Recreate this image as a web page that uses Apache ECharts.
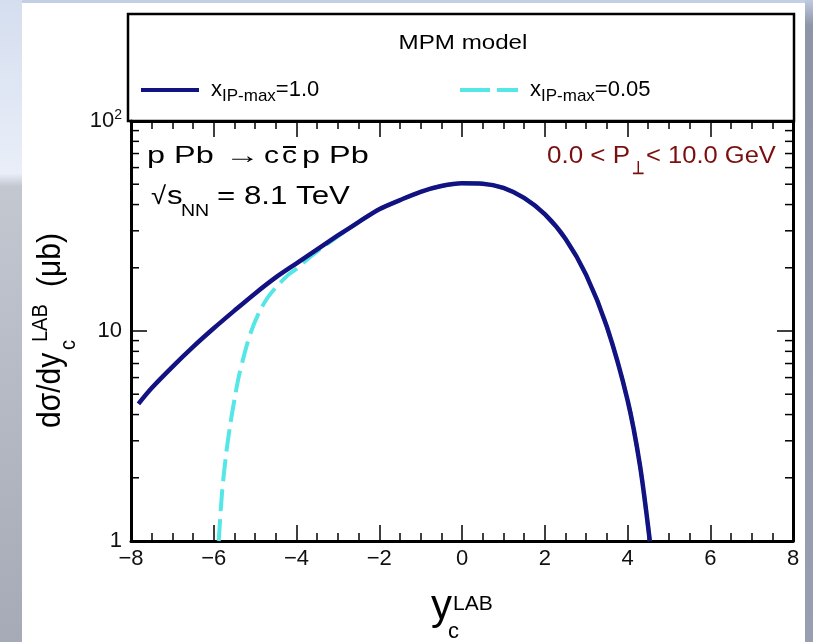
<!DOCTYPE html>
<html><head><meta charset="utf-8">
<script src="https://cdn.jsdelivr.net/npm/echarts@6/dist/echarts.min.js"></script>
<style>
html,body{margin:0;padding:0;width:813px;height:642px;overflow:hidden;}
body{position:relative;background:#c4cfe5;}
#left{position:absolute;left:0;top:0;width:22px;height:642px;background:linear-gradient(to bottom,#d5deef 0%,#e9eef8 27%,#c3c7d0 29%,#a6aab6 100%);}
#right{position:absolute;left:805px;top:0;width:8px;height:642px;background:linear-gradient(to bottom,#c0cadf 0%,#8d95a7 4%,#979fb0 100%);}
#paper{position:absolute;left:22px;top:3px;width:783px;height:639px;background:#fff;}
#chart{position:absolute;left:0;top:0;width:813px;height:642px;}
</style></head><body>
<div id="left"></div><div id="right"></div><div id="paper"></div>
<div id="chart"></div>
<script>
// ---- data ----
const seriesNames = ['x_IP-max=1.0', 'x_IP-max=0.05'];
const legendValues = ['1.0', '0.05'];
const yRap1 = [-7.82,-7.5,-7,-6.5,-6,-5.5,-5,-4.5,-4,-3.5,-3,-2.5,-2,-1.5,-1,-0.5,0,0.5,1,1.5,2,2.5,3,3.5,4,4.3,4.54];
const xsec1 = [4.5,5.35,6.75,8.4,10.3,12.5,15.1,18.0,21.0,24.5,28.5,33.0,38.0,42.0,46.0,49.0,50.5,50.3,48.0,43.0,36.0,27.5,18.5,10.5,4.7,2.3,1.0];
const yRap2 = [-5.88,-5.8,-5.7,-5.6,-5.5,-5.4,-5.25,-5.1,-4.9,-4.7,-4.5,-4.2,-4,-3.7,-3.4,-3,-2.5,-2,-1.5,-1,-0.5,0,0.5,1,1.5,2,2.5,3,3.5,4,4.3,4.54];
const xsec2 = [1.0,1.7,2.6,3.6,4.7,6.0,7.9,9.9,12.3,14.4,16.1,18.5,19.8,22.3,24.8,28.2,33.0,38.0,42.0,46.0,49.0,50.5,50.3,48.0,43.0,36.0,27.5,18.5,10.5,4.7,2.3,1.0];
const xMin = -8, xMax = 8, xInterval = 2;
const yMin = 1, yMax = 100;
const yMinorTicks = [2,3,4,5,6,7,8,9,20,30,40,50,60,70,80,90];

const FONT = '"Liberation Sans", Arial, Helvetica, sans-serif';
const navy = '#121282', cyan = '#55e6e6', dred = '#7a0f0f';

const chart = echarts.init(document.getElementById('chart'), null, {renderer: 'canvas'});

function legendFmt(i) {
  return name => '{x|x}{sub|IP-max}{v|=' + legendValues[i] + '}';
}
const legendRich = {
  x: {fontSize: 22, fontFamily: FONT, color: '#000', lineHeight: 30, padding: [0, 0, 0, 7]},
  v: {fontSize: 22, fontFamily: FONT, color: '#000', lineHeight: 30},
  sub: {fontSize: 17, fontFamily: FONT, color: '#000', lineHeight: 17, verticalAlign: 'bottom'}
};

const axisLineStyle = {color: '#000', width: 3};
const tickStyle = {color: '#000', width: 1.5};

// text placed by its baseline (converted to a middle anchor)
function txt(x, base, text, size, opts) {
  opts = opts || {};
  return {
    type: 'text', x: x, y: base - 0.35 * size, scaleX: opts.sx || 1, scaleY: opts.sy || 1, z: 10,
    style: {
      x: 0, y: 0, text: text, fill: opts.color || '#000',
      font: (opts.weight || 'normal') + ' ' + size + 'px ' + FONT,
      align: opts.align || 'left', verticalAlign: 'middle'
    }
  };
}

const option = {
  backgroundColor: 'transparent',
  animation: false,
  textStyle: {fontFamily: FONT},
  grid: {left: 131, right: 20, top: 121, bottom: 101, show: false},
  legend: [
    {data: [seriesNames[0]], left: 141, top: 79, padding: 0, itemWidth: 58, itemHeight: 4,
     icon: 'rect', selectedMode: false, formatter: legendFmt(0), textStyle: {rich: legendRich}},
    {data: [seriesNames[1]], left: 460, top: 79, padding: 0, itemWidth: 58, itemHeight: 4,
     icon: 'path://M0,0h30v4h-30z M37,0h21v4h-21z', selectedMode: false, formatter: legendFmt(1), textStyle: {rich: legendRich}}
  ],
  xAxis: [
    {type: 'value', min: xMin, max: xMax, interval: xInterval, position: 'bottom',
     axisLine: {show: true, onZero: false, lineStyle: axisLineStyle},
     axisTick: {show: true, inside: true, length: 16, lineStyle: tickStyle},
     minorTick: {show: true, splitNumber: 4, length: 8, lineStyle: tickStyle},
     axisLabel: {margin: 7, fontSize: 22, color: '#111', fontFamily: FONT,
       formatter: v => String(Math.round(v)).replace('-', '\u2212')},
     splitLine: {show: false}, minorSplitLine: {show: false}},
    {type: 'value', min: xMin, max: xMax, interval: xInterval, position: 'top',
     axisLine: {show: true, onZero: false, lineStyle: axisLineStyle},
     axisTick: {show: true, inside: true, length: 16, lineStyle: tickStyle},
     minorTick: {show: true, splitNumber: 4, length: 8, lineStyle: tickStyle},
     axisLabel: {show: false}, splitLine: {show: false}, minorSplitLine: {show: false}}
  ],
  yAxis: [
    {type: 'log', logBase: 10, min: yMin, max: yMax, position: 'left',
     axisLine: {show: true, onZero: false, lineStyle: axisLineStyle},
     axisTick: {show: true, inside: true, length: 16, lineStyle: tickStyle},
     axisLabel: {margin: 9, color: '#111', fontFamily: FONT,
       formatter: v => { const r = Math.round(v); return r === 100 ? '{b|10}{s|2}' : '{b|' + r + '}'; },
       rich: {b: {fontSize: 22, fontFamily: FONT, color: '#111', lineHeight: 26},
              s: {fontSize: 14, fontFamily: FONT, color: '#111', lineHeight: 14, verticalAlign: 'top'}}},
     splitLine: {show: false}},
    {type: 'log', logBase: 10, min: yMin, max: yMax, position: 'right',
     axisLine: {show: true, onZero: false, lineStyle: axisLineStyle},
     axisTick: {show: true, inside: true, length: 16, lineStyle: tickStyle},
     axisLabel: {show: false}, splitLine: {show: false}}
  ],
  series: [
    {name: seriesNames[1], type: 'line', xAxisIndex: 0, yAxisIndex: 0, z: 2,
     data: yRap2.map((x, i) => [x, xsec2[i]]), showSymbol: false, symbol: 'none', smooth: 0.3,
     lineStyle: {color: cyan, width: 4, type: [22, 8]}, itemStyle: {color: cyan}},
    {name: seriesNames[0], type: 'line', xAxisIndex: 0, yAxisIndex: 0, z: 3,
     data: yRap1.map((x, i) => [x, xsec1[i]]), showSymbol: false, symbol: 'none', smooth: 0.3,
     lineStyle: {color: navy, width: 4.5}, itemStyle: {color: navy}},
    {type: 'custom', xAxisIndex: 0, yAxisIndex: 0, silent: true, z: 5, clip: false,
     encode: {x: 0, y: 1},
     data: yMinorTicks.map(v => [xMin, v]),
     renderItem: (params, api) => {
       const v = api.value(1);
       const l = api.coord([xMin, v]), r = api.coord([xMax, v]);
       return {type: 'group', children: [
         {type: 'line', shape: {x1: l[0], y1: l[1], x2: l[0] + 8, y2: l[1]}, style: {stroke: '#000', lineWidth: 1.5}},
         {type: 'line', shape: {x1: r[0], y1: r[1], x2: r[0] - 8, y2: r[1]}, style: {stroke: '#000', lineWidth: 1.5}}
       ]};
     }}
  ],
  graphic: [
    {type: 'rect', z: -1, shape: {x: 128, y: 14, width: 666, height: 107},
     style: {fill: '#fff', stroke: '#000', lineWidth: 2.5}},
    txt(463, 51, 'MPM model', 21, {align: 'center', sx: 1.15}),
    // reaction
    txt(147, 165, 'p Pb', 24, {sx: 1.35}),
    txt(225, 165, '\u2192', 24, {sx: 1.45}),
    txt(264, 165, 'c', 24, {sx: 1.25}),
    txt(282, 165, 'c', 24, {sx: 1.25}),
    {type: 'line', z: 10, shape: {x1: 283, y1: 147, x2: 296, y2: 147}, style: {stroke: '#000', lineWidth: 2}},
    txt(302, 165, 'p Pb', 24, {sx: 1.35}),
    // energy
    txt(151, 206, '\u221A', 25, {sx: 1.1}),
    txt(167, 206, 's', 25, {sx: 1.25}),
    txt(181, 217, 'NN', 17, {sx: 1.15}),
    txt(217, 206, '= 8.1 TeV', 25, {sx: 1.25}),
    // pT range
    txt(547, 165, '0.0 < P', 23, {sx: 1.13, color: dred}),
    txt(632, 175, '\u22A5', 18, {sx: 0.8, color: dred, weight: 'bold'}),
    txt(646, 165, '< 10.0 GeV', 23, {sx: 1.11, color: dred}),
    // y-axis title (rotated)
    {type: 'group', x: 63, y: 428, rotation: Math.PI / 2, scaleY: 1.12, z: 10, children: [
      txt(0, 0, 'd\u03C3/dy', 30),
      txt(78, 12, 'c', 20),
      txt(86, -13, 'LAB', 20),
      txt(141, 0, '(\u03BCb)', 30)
    ]},
    // x-axis title
    txt(431, 622, 'y', 42),
    txt(453, 612, 'LAB', 21),
    txt(448, 640, 'c', 22)
  ]
};
chart.setOption(option);
</script>
</body></html>
